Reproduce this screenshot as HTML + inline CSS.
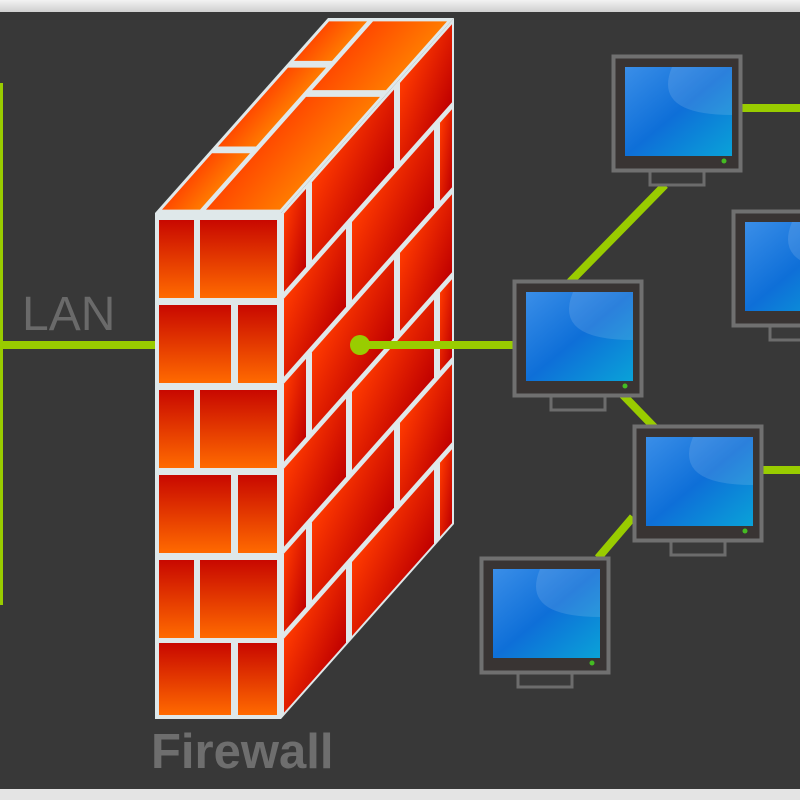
<!DOCTYPE html>
<html><head><style>body{margin:0;background:#383838}svg{display:block}</style></head><body>
<svg width="800" height="800" viewBox="0 0 800 800" xmlns="http://www.w3.org/2000/svg">
<defs>
<linearGradient id="bf" x1="0" y1="0" x2="0" y2="1"><stop offset="0" stop-color="#c80800"/><stop offset="1" stop-color="#ff6a00"/></linearGradient>
<linearGradient id="bs" x1="0" y1="0" x2="1" y2="1"><stop offset="0" stop-color="#ff3a00"/><stop offset="1" stop-color="#c00000"/></linearGradient>
<linearGradient id="bt" x1="0" y1="0" x2="1" y2="0"><stop offset="0" stop-color="#ff4a00"/><stop offset="1" stop-color="#ff7a00"/></linearGradient>
<linearGradient id="scr" x1="0" y1="0" x2="1" y2="1"><stop offset="0" stop-color="#3a8ee8"/><stop offset="0.5" stop-color="#0e6fd8"/><stop offset="1" stop-color="#0aa2d8"/></linearGradient>
<linearGradient id="tp" x1="0" y1="0" x2="0" y2="1"><stop offset="0" stop-color="#f2f2f2"/><stop offset="1" stop-color="#cfcfcf"/></linearGradient>
<g id="mon">
<rect x="38" y="116" width="54" height="14" fill="#3a3a3a" stroke="#6c6c6c" stroke-width="3"/>
<rect x="1.5" y="1.5" width="127" height="114" fill="#393433" stroke="#707070" stroke-width="4"/>
<rect x="13" y="12" width="107" height="89" fill="url(#scr)"/>
<path d="M13 12 H60 Q40 60 120 60 V12 Z" fill="#ffffff" opacity="0.12"/>
<circle cx="112" cy="106" r="2.5" fill="#44bb22"/>
</g>
</defs>
<rect width="800" height="800" fill="#383838"/>
<rect width="800" height="12" fill="url(#tp)"/>
<rect y="789" width="800" height="11" fill="#e4e4e4"/>
<g stroke="#99cc00" stroke-width="8" fill="none">
<line x1="0" y1="345" x2="156" y2="345"/>
<line x1="742" y1="108" x2="800" y2="108"/>
<line x1="665" y1="185" x2="570" y2="282"/>
<line x1="622" y1="394" x2="655" y2="428"/>
<line x1="762" y1="470" x2="800" y2="470"/>
<line x1="633" y1="517" x2="598" y2="558"/>
</g>
<rect x="0" y="83" width="3" height="522" fill="#99cc00"/>
<text x="22" y="330" font-family="Liberation Sans, sans-serif" font-size="48" fill="#6a6a6a">LAN</text>
<text x="151" y="768" font-family="Liberation Sans, sans-serif" font-size="49" font-weight="bold" fill="#6e6e6e">Firewall</text>
<!-- wall front -->
<rect x="155" y="213" width="126" height="506" fill="#dfe8ea"/>
<g fill="url(#bf)">
<rect x="159" y="220" width="35" height="78"/><rect x="200" y="220" width="77" height="78"/>
<rect x="159" y="305" width="72" height="78"/><rect x="238" y="305" width="39" height="78"/>
<rect x="159" y="390" width="35" height="78"/><rect x="200" y="390" width="77" height="78"/>
<rect x="159" y="475" width="72" height="78"/><rect x="238" y="475" width="39" height="78"/>
<rect x="159" y="560" width="35" height="78"/><rect x="200" y="560" width="77" height="78"/>
<rect x="159" y="643" width="72" height="72"/><rect x="238" y="643" width="39" height="72"/>
</g>
<!-- side face -->
<g transform="matrix(1,-1.127,0,1,281,213)">
<rect x="0" y="0" width="173" height="506" fill="#dfe8ea"/>
<g fill="url(#bs)">
<rect x="3" y="4" width="22" height="78"/><rect x="31" y="4" width="82" height="78"/><rect x="119" y="4" width="52" height="78"/>
<rect x="3" y="89" width="62" height="78"/><rect x="71" y="89" width="82" height="78"/><rect x="159" y="89" width="12" height="78"/>
<rect x="3" y="174" width="22" height="78"/><rect x="31" y="174" width="82" height="78"/><rect x="119" y="174" width="52" height="78"/>
<rect x="3" y="259" width="62" height="78"/><rect x="71" y="259" width="82" height="78"/><rect x="159" y="259" width="12" height="78"/>
<rect x="3" y="344" width="22" height="78"/><rect x="31" y="344" width="82" height="78"/><rect x="119" y="344" width="52" height="78"/>
<rect x="3" y="429" width="62" height="74"/><rect x="71" y="429" width="82" height="74"/><rect x="159" y="429" width="12" height="74"/>
</g>
</g>
<!-- top face -->
<g transform="matrix(1,0,1,-1.127,155,213)">
<rect x="0" y="0" width="126" height="173" fill="#dfe8ea"/>
<g fill="url(#bt)">
<rect x="4" y="3" width="38" height="50"/><rect x="4" y="59" width="38" height="70"/><rect x="4" y="135" width="38" height="35"/>
<rect x="48" y="3" width="74" height="100"/><rect x="48" y="109" width="74" height="61"/>
</g>
</g>
<line x1="360" y1="345" x2="515" y2="345" stroke="#99cc00" stroke-width="8"/>
<circle cx="360" cy="345" r="10" fill="#99cc00"/>
<use href="#mon" x="612" y="55"/>
<use href="#mon" x="732" y="210"/>
<use href="#mon" x="513" y="280"/>
<use href="#mon" x="633" y="425"/>
<use href="#mon" x="480" y="557"/>
</svg>
</body></html>
